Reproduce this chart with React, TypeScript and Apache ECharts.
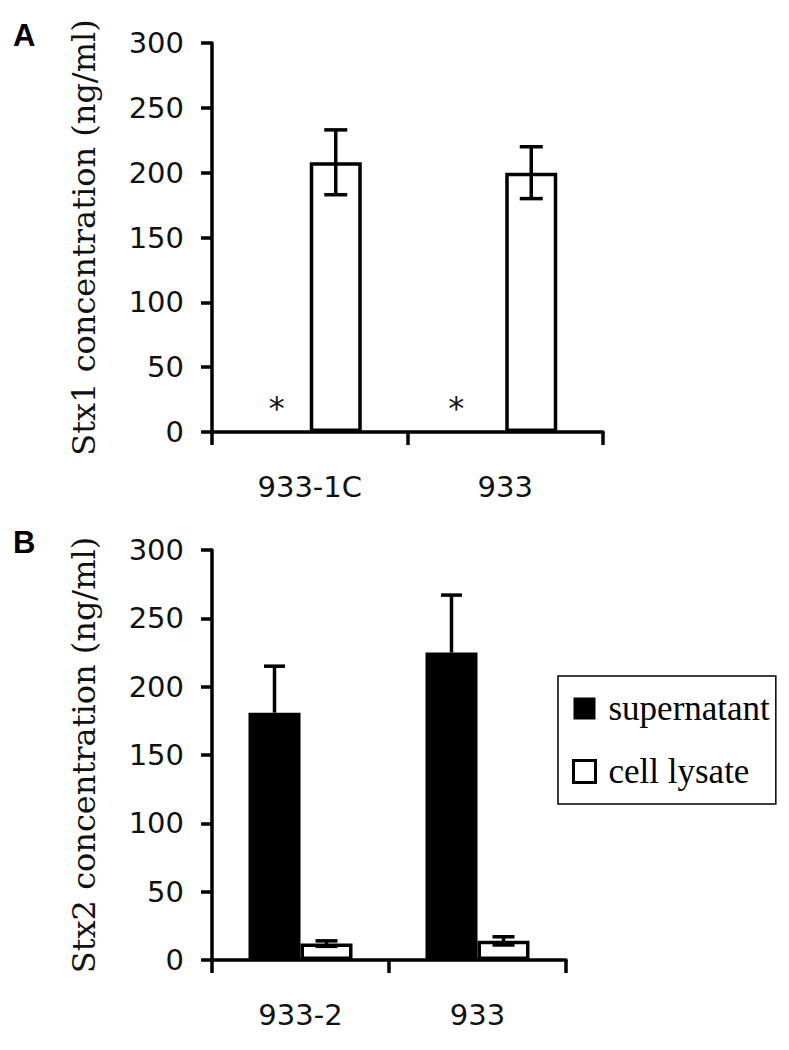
import React, { useEffect, useRef } from "react";
import * as echarts from "echarts";

// ---- data ----
const categoriesA = ["933-1C", "933"];
const categoriesB = ["933-2", "933"];
const supernatantA = [0, 0];
const lysateA = [208, 200];
const lysateErrA = [25, 20];
const supernatantB = [181, 225];
const supernatantErrB = [34, 42];
const lysateB = [12, 14];
const lysateErrB = [2, 3];
const seriesNames = ["supernatant", "cell lysate"];
const yMin = 0;
const yMax = 300;
const yStep = 50;
const titleA = "Stx1 concentration (ng/ml)";
const titleB = "Stx2 concentration (ng/ml)";
const asteriskOffsets = [-7, -23];

const BAR_W = 52;
const LW = 3.5;
const SANS = "DejaVu Sans";
const SERIF = "DejaVu Serif";

function makeErr(offset: number, capHalf: number, upOnly: boolean) {
  return (params: any, api: any) => {
    const i = api.value(0);
    const v = api.value(1);
    const e = api.value(2);
    const p0 = api.coord([i, v]);
    const pt = api.coord([i, v + e]);
    const pb = api.coord([i, upOnly ? v : v - e]);
    const x = p0[0] + offset;
    const style = { stroke: "#000", lineWidth: LW, fill: null };
    const children: any[] = [
      { type: "line", shape: { x1: x, y1: pb[1], x2: x, y2: pt[1] }, style },
      { type: "line", shape: { x1: x - capHalf, y1: pt[1], x2: x + capHalf, y2: pt[1] }, style },
    ];
    if (!upOnly) {
      children.push({ type: "line", shape: { x1: x - capHalf, y1: pb[1], x2: x + capHalf, y2: pb[1] }, style });
    }
    return { type: "group", children };
  };
}

function xAxisCfg(gridIndex: number, cats: string[]) {
  return {
    type: "category",
    gridIndex,
    data: cats,
    axisLine: { show: true, lineStyle: { color: "#000", width: LW } },
    axisTick: { show: true, inside: false, length: 13, lineStyle: { color: "#000", width: LW } },
    axisLabel: { color: "#111", fontFamily: SANS, fontSize: 29, margin: 40 },
    splitLine: { show: false },
  };
}

function yAxisCfg(gridIndex: number, name: string) {
  return {
    type: "value",
    gridIndex,
    min: yMin,
    max: yMax,
    interval: yStep,
    name,
    nameLocation: "middle",
    nameRotate: 90,
    nameGap: 112,
    nameTextStyle: { color: "#111", fontFamily: SERIF, fontSize: 32 },
    axisLine: { show: true, lineStyle: { color: "#000", width: LW } },
    axisTick: { show: true, inside: false, length: 11, lineStyle: { color: "#000", width: LW } },
    axisLabel: { color: "#111", fontFamily: SANS, fontSize: 29, margin: 28 },
    splitLine: { show: false },
  };
}

export default function App() {
  const ref = useRef<HTMLDivElement>(null);

  useEffect(() => {
    if (!ref.current) return;
    const chart = echarts.init(ref.current, null, { renderer: "svg" });
    const option: any = {
      animation: false,
      backgroundColor: "#fff",
      grid: [
        { left: 212, top: 43, width: 391, height: 389 },
        { left: 212, top: 550, width: 354, height: 410 },
      ],
      xAxis: [xAxisCfg(0, categoriesA), xAxisCfg(1, categoriesB)],
      yAxis: [yAxisCfg(0, titleA), yAxisCfg(1, titleB)],
      legend: {
        left: 558,
        top: 676,
        orient: "vertical",
        borderColor: "#000",
        borderWidth: 1.5,
        padding: [14, 6, 14, 14],
        itemWidth: 22,
        itemHeight: 22,
        itemGap: 26,
        icon: "rect",
        selectedMode: false,
        textStyle: { color: "#000", fontFamily: "Liberation Serif", fontSize: 35, lineHeight: 37, padding: [0, 0, 0, 8] },
        data: [
          { name: seriesNames[0], itemStyle: { color: "#000", borderWidth: 0 } },
          { name: seriesNames[1], itemStyle: { color: "#fff", borderColor: "#000", borderWidth: 3 } },
        ],
      },
      graphic: [
        { type: "text", left: 13, top: 20, style: { text: "A", fontFamily: "Liberation Sans", fontWeight: "bold", fontSize: 31, fill: "#000" } },
        { type: "text", left: 13, top: 527, style: { text: "B", fontFamily: "Liberation Sans", fontWeight: "bold", fontSize: 31, fill: "#000" } },
      ],
      series: [
        {
          name: seriesNames[0],
          type: "bar",
          xAxisIndex: 0,
          yAxisIndex: 0,
          barWidth: BAR_W,
          barGap: "0%",
          itemStyle: { color: "#000" },
          data: supernatantA.map((v, i) => ({
            value: v,
            label: { offset: [asteriskOffsets[i], 0] },
          })),
          label: {
            show: true,
            position: "top",
            distance: 8,
            formatter: "*",
            fontFamily: SANS,
            fontSize: 32,
            color: "#111",
          },
        },
        {
          name: seriesNames[1],
          type: "bar",
          xAxisIndex: 0,
          yAxisIndex: 0,
          barWidth: BAR_W,
          barGap: "0%",
          itemStyle: { color: "#fff", borderColor: "#000", borderWidth: LW },
          data: lysateA,
        },
        {
          type: "custom",
          xAxisIndex: 0,
          yAxisIndex: 0,
          z: 5,
          renderItem: makeErr(BAR_W / 2, 11.5, false),
          data: lysateA.map((v, i) => [i, v, lysateErrA[i]]),
        },
        {
          name: seriesNames[0],
          type: "bar",
          xAxisIndex: 1,
          yAxisIndex: 1,
          barWidth: BAR_W,
          barGap: "0%",
          itemStyle: { color: "#000" },
          data: supernatantB,
        },
        {
          name: seriesNames[1],
          type: "bar",
          xAxisIndex: 1,
          yAxisIndex: 1,
          barWidth: BAR_W,
          barGap: "0%",
          itemStyle: { color: "#fff", borderColor: "#000", borderWidth: LW },
          data: lysateB,
        },
        {
          type: "custom",
          xAxisIndex: 1,
          yAxisIndex: 1,
          z: 5,
          renderItem: makeErr(-BAR_W / 2, 10.5, true),
          data: supernatantB.map((v, i) => [i, v, supernatantErrB[i]]),
        },
        {
          type: "custom",
          xAxisIndex: 1,
          yAxisIndex: 1,
          z: 5,
          renderItem: makeErr(BAR_W / 2, 11, false),
          data: lysateB.map((v, i) => [i, v, lysateErrB[i]]),
        },
      ],
    };
    chart.setOption(option);
    return () => chart.dispose();
  }, []);

  return (
    <div
      ref={ref}
      style={{ position: "absolute", left: 0, top: 0, width: 789, height: 1050, background: "#fff" }}
    />
  );
}
